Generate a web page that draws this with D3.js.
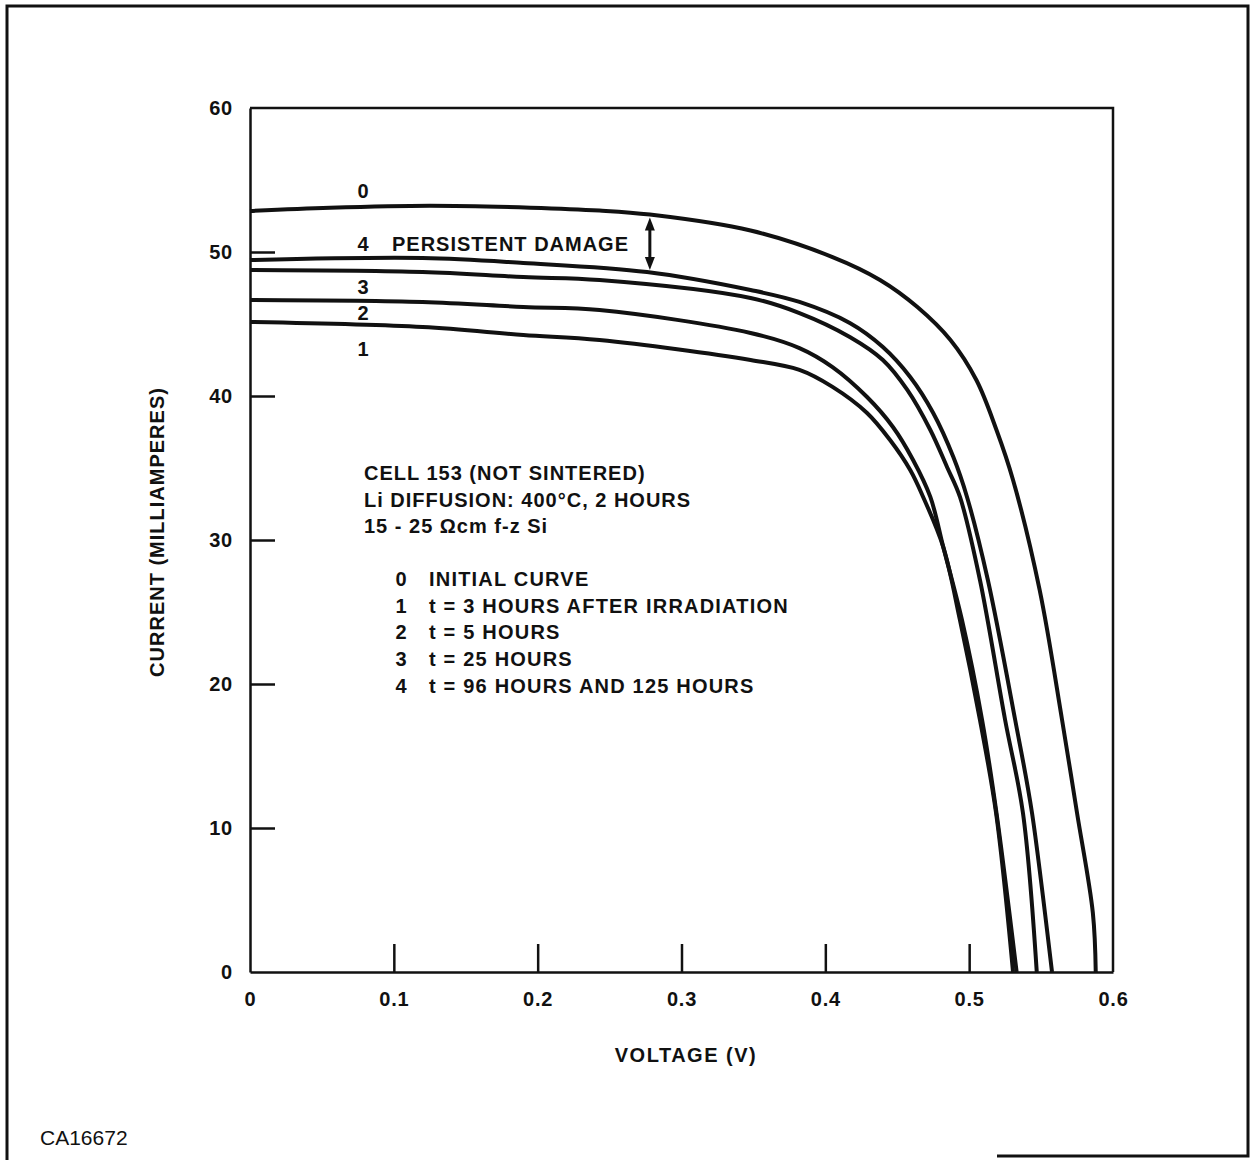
<!DOCTYPE html>
<html>
<head>
<meta charset="utf-8">
<script src="https://cdn.jsdelivr.net/npm/d3@7"></script>
<style>
  html, body { margin: 0; padding: 0; background: #fff; }
  svg { display: block; }
  text { font-family: "Liberation Sans", Arial, Helvetica, sans-serif; fill: #111; }
</style>
</head>
<body>
<svg id="chart" width="1251" height="1160"></svg>
<script>
// I-V characteristics of a lithium-diffused silicon cell (voltage in V, current in mA)
const curve0 = [[0,52.85],[0.0556,53.08],[0.125,53.22],[0.195,53.08],[0.243,52.88],[0.278,52.6],[0.348,51.49],[0.405,49.65],[0.438,48.06],[0.464,46.18],[0.487,43.89],[0.505,41.11],[0.519,37.64],[0.5305,34.17],[0.549,26.53],[0.5646,17.5],[0.575,11.04],[0.586,4.1],[0.588,0]];
const curve1 = [[0,45.14],[0.12,44.79],[0.19,44.24],[0.243,43.89],[0.348,42.5],[0.382,41.81],[0.405,40.63],[0.429,38.82],[0.445,36.94],[0.459,34.86],[0.468,32.99],[0.482,29.51],[0.4936,24.44],[0.5075,17.5],[0.5187,11.04],[0.5305,0]];
const curve2 = [[0,46.67],[0.12,46.53],[0.19,46.18],[0.243,45.97],[0.348,44.38],[0.382,43.33],[0.405,42.01],[0.429,39.93],[0.447,37.85],[0.461,35.56],[0.473,32.99],[0.482,29.51],[0.495,24.44],[0.509,17.5],[0.519,11.04],[0.533,0]];
const curve3 = [[0,48.75],[0.12,48.61],[0.19,48.26],[0.243,48.06],[0.348,46.81],[0.382,45.76],[0.417,44.1],[0.44,42.5],[0.457,40.42],[0.473,37.64],[0.4846,35.07],[0.4936,32.99],[0.5075,27.22],[0.525,17.5],[0.5374,11.04],[0.547,0]];
const curve4 = [[0,49.44],[0.12,49.58],[0.19,49.24],[0.276,48.61],[0.348,47.36],[0.382,46.53],[0.417,45.07],[0.44,43.4],[0.459,41.32],[0.475,38.82],[0.489,35.76],[0.4985,32.99],[0.513,27.22],[0.532,17.5],[0.5437,11.04],[0.5576,0]];

const curveLabels = ["0", "4", "3", "2", "1"];
const xTicks = [0, 0.1, 0.2, 0.3, 0.4, 0.5, 0.6];
const xTickLabels = ["0", "0.1", "0.2", "0.3", "0.4", "0.5", "0.6"];
const yTicks = [0, 10, 20, 30, 40, 50, 60];
const yTickLabels = ["0", "10", "20", "30", "40", "50", "60"];
const noteLines = ["CELL 153 (NOT SINTERED)", "Li DIFFUSION: 400°C, 2 HOURS", "15 - 25 \u03A9cm f-z Si"];
const keyNumbers = ["0", "1", "2", "3", "4"];
const keyTexts = ["INITIAL CURVE", "t = 3 HOURS AFTER IRRADIATION", "t = 5 HOURS", "t = 25 HOURS", "t = 96 HOURS AND 125 HOURS"];
const xTitle = "VOLTAGE (V)";
const yTitle = "CURRENT (MILLIAMPERES)";
const damageLabel = "PERSISTENT DAMAGE";
const figureId = "CA16672";

const svg = d3.select("#chart");
const x = d3.scaleLinear().domain([0, 0.6]).range([250, 1113]);
const y = d3.scaleLinear().domain([0, 60]).range([972, 108]);

// outer figure frame
svg.append("path").attr("d", "M7,1160 V6 H1248 V1156 H997")
  .attr("fill", "none").attr("stroke", "#111").attr("stroke-width", 3);

// plot box (top and right edges)
svg.append("path")
  .attr("d", `M${x(0)},${y(60)} H${x(0.6)} V${y(0)}`)
  .attr("fill", "none").attr("stroke", "#111").attr("stroke-width", 2.5);

// axes with inward ticks
const xAxis = d3.axisBottom(x).tickValues(xTicks)
  .tickFormat((d, i) => xTickLabels[i]).tickSizeInner(-28).tickSizeOuter(0).tickPadding(20);
const yAxis = d3.axisLeft(y).tickValues(yTicks)
  .tickFormat((d, i) => yTickLabels[i]).tickSizeInner(-25).tickSizeOuter(0).tickPadding(17);

const gx = svg.append("g").attr("transform", `translate(0,${y(0)})`).call(xAxis);
const gy = svg.append("g").attr("transform", `translate(${x(0)},0)`).call(yAxis);
[gx, gy].forEach(g => {
  g.select(".domain").attr("stroke", "#111").attr("stroke-width", 2.5);
  g.selectAll(".tick line").attr("stroke", "#111").attr("stroke-width", 2.5);
  g.selectAll(".tick text").attr("fill", "#111").attr("font-size", 20)
    .attr("font-family", "'Liberation Sans', Arial, sans-serif").attr("font-weight", "bold")
    .attr("letter-spacing", 0.8);
});
gx.selectAll(".tick line").filter(d => d === 0 || d === 0.6).remove();
gy.selectAll(".tick line").filter(d => d === 0 || d === 60).remove();

// axis titles
svg.append("text").attr("x", 686).attr("y", 1062).attr("text-anchor", "middle")
  .attr("font-size", 20).attr("font-weight", "bold").attr("letter-spacing", 1.5).text(xTitle);
svg.append("text").attr("transform", "translate(164,532) rotate(-90)").attr("text-anchor", "middle")
  .attr("font-size", 20).attr("font-weight", "bold").attr("letter-spacing", 1).text(yTitle);

// I-V curves
const line = d3.line().x(d => x(d[0])).y(d => y(d[1])).curve(d3.curveCatmullRom.alpha(0.5));
const curves = [curve0, curve4, curve3, curve2, curve1];
svg.append("g").selectAll("path").data(curves).join("path")
  .attr("d", line).attr("fill", "none").attr("stroke", "#111")
  .attr("stroke-width", 4).attr("stroke-linejoin", "round").attr("stroke-linecap", "butt");

// curve number labels
const labelY = [198, 251, 294, 320, 356];
svg.append("g").selectAll("text").data(curveLabels).join("text")
  .attr("x", 363).attr("y", (d, i) => labelY[i]).attr("text-anchor", "middle")
  .attr("font-size", 20).attr("font-weight", "bold").text(d => d);
svg.append("text").attr("x", 392).attr("y", 251).attr("font-size", 20)
  .attr("font-weight", "bold").attr("letter-spacing", 1).text(damageLabel);

// double-headed arrow spanning curve 0 to curve 4
const arrowX = x(0.278);
const yTop = y(52.6) + 3, yBot = y(48.61) - 2;
svg.append("line").attr("x1", arrowX).attr("x2", arrowX).attr("y1", yTop + 10).attr("y2", yBot - 10)
  .attr("stroke", "#111").attr("stroke-width", 3);
svg.append("path").attr("d", `M${arrowX},${yTop} l-5,13 h10 Z`).attr("fill", "#111");
svg.append("path").attr("d", `M${arrowX},${yBot} l-5,-13 h10 Z`).attr("fill", "#111");

// cell description
svg.append("g").selectAll("text").data(noteLines).join("text")
  .attr("x", 364).attr("y", (d, i) => 480 + i * 26.5)
  .attr("font-size", 20).attr("font-weight", "bold").attr("letter-spacing", 1).text(d => d);

// curve key
const key = svg.append("g");
key.selectAll("text.num").data(keyNumbers).join("text").attr("class", "num")
  .attr("x", 401).attr("y", (d, i) => 586 + i * 26.7).attr("text-anchor", "middle")
  .attr("font-size", 20).attr("font-weight", "bold").text(d => d);
key.selectAll("text.desc").data(keyTexts).join("text").attr("class", "desc")
  .attr("x", 429).attr("y", (d, i) => 586 + i * 26.7)
  .attr("font-size", 20).attr("font-weight", "bold").attr("letter-spacing", 1.2).text(d => d);

// figure number
svg.append("text").attr("x", 40).attr("y", 1145).attr("font-size", 21).text(figureId);
</script>
</body>
</html>
